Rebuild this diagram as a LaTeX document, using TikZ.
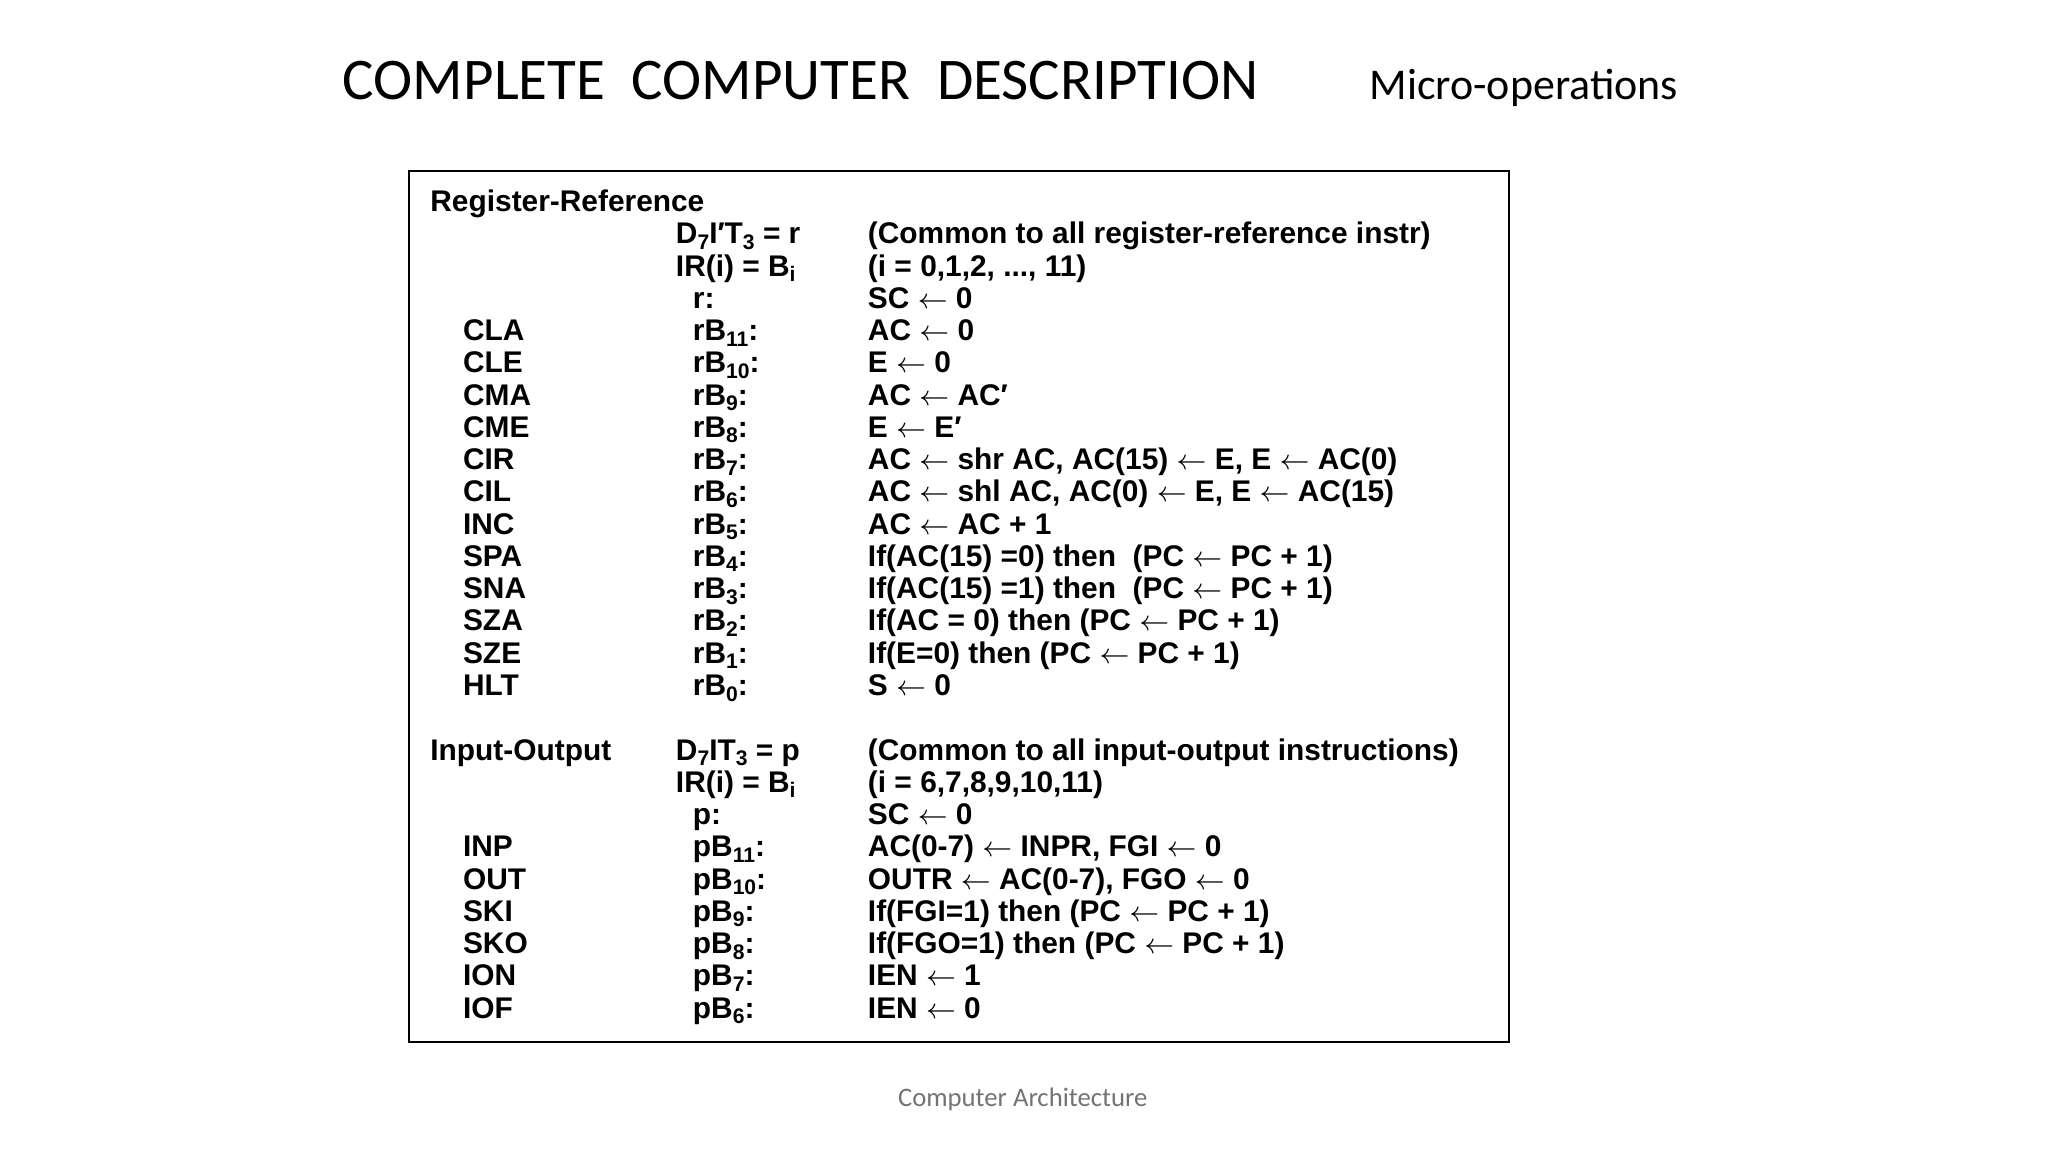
\documentclass[tikz,border=0pt]{standalone}
\usepackage{fontspec}
\setmainfont{Liberation Sans}
\newfontfamily\titlefont{Carlito}
\newcommand{\sbs}[1]{\raisebox{-0.35ex}{\fontsize{6}{6}\selectfont #1}}
\begin{document}
\begin{tikzpicture}[x=0.01306cm,y=-0.01306cm,
  cell/.style={anchor=base west,inner sep=0pt,font=\fontsize{8.5}{10}\selectfont\bfseries}]
\useasboundingbox (0,0) rectangle (1568,882);
\node[anchor=base west,inner sep=0pt,font=\titlefont\fontsize{16.8}{20}\selectfont] (title) at (262,76) {COMPLETE\ \ COMPUTER\ \ DESCRIPTION};
\node[anchor=base west,inner sep=0pt,font=\titlefont\fontsize{12.5}{15}\selectfont] (sub) at (1048,76) {Micro-operations};
\node[anchor=base,inner sep=0pt,text=black!55,font=\titlefont\fontsize{7.6}{10}\selectfont] (foot) at (783,847) {Computer Architecture};
\draw[line width=0.6pt] (313,131) rectangle (1155,798);
\def\ar{$\leftarrow$}
\foreach \y/\a/\b/\c [count=\i] in {
 4/{CLA}/rB\sbs{11}:/AC \ar{} 0,
 5/{CLE}/rB\sbs{10}:/E \ar{} 0,
 6/{CMA}/rB\sbs{9}:/AC \ar{} AC′,
 7/{CME}/rB\sbs{8}:/E \ar{} E′,
 8/{CIR}/rB\sbs{7}:/{AC \ar{} shr AC, AC(15) \ar{} E, E \ar{} AC(0)},
 9/{CIL}/rB\sbs{6}:/{AC \ar{} shl AC, AC(0) \ar{} E, E \ar{} AC(15)},
 10/{INC}/rB\sbs{5}:/AC \ar{} AC + 1,
 11/{SPA}/rB\sbs{4}:/If(AC(15) =0) then\ \ (PC \ar{} PC + 1),
 12/{SNA}/rB\sbs{3}:/If(AC(15) =1) then\ \ (PC \ar{} PC + 1),
 13/{SZA}/rB\sbs{2}:/If(AC = 0) then (PC \ar{} PC + 1),
 14/{SZE}/rB\sbs{1}:/If(E=0) then (PC \ar{} PC + 1),
 15/{HLT}/rB\sbs{0}:/S \ar{} 0,
 20/{INP}/pB\sbs{11}:/{AC(0-7) \ar{} INPR, FGI \ar{} 0},
 21/{OUT}/pB\sbs{10}:/{OUTR \ar{} AC(0-7), FGO \ar{} 0},
 22/{SKI}/pB\sbs{9}:/If(FGI=1) then (PC \ar{} PC + 1),
 23/{SKO}/pB\sbs{8}:/If(FGO=1) then (PC \ar{} PC + 1),
 24/{ION}/pB\sbs{7}:/IEN \ar{} 1,
 25/{IOF}/pB\sbs{6}:/IEN \ar{} 0}{
  \node[cell] (a\i) at (354,162+24.7*\y) {\a};
  \node[cell] (b\i) at (530,162+24.7*\y) {\b};
  \node[cell] (c\i) at (664,162+24.7*\y) {\c};
}
\node[cell] (rr) at (329,162) {Register-Reference};
\node[cell] (io) at (329,162+24.7*17) {Input-Output};
\node[cell] (h1) at (517,162+24.7*1) {D\sbs{7}I′T\sbs{3} = r};
\node[cell] (h1c) at (664,162+24.7*1) {(Common to all register-reference instr)};
\node[cell] (h2) at (517,162+24.7*2) {IR(i) = B\sbs{i}};
\node[cell] (h2c) at (664,162+24.7*2) {(i = 0,1,2, ..., 11)};
\node[cell] (h3) at (530,162+24.7*3) {r:};
\node[cell] (h3c) at (664,162+24.7*3) {SC \ar{} 0};
\node[cell] (h18) at (517,162+24.7*17) {D\sbs{7}IT\sbs{3} = p};
\node[cell] (h18c) at (664,162+24.7*17) {(Common to all input-output instructions)};
\node[cell] (h19) at (517,162+24.7*18) {IR(i) = B\sbs{i}};
\node[cell] (h19c) at (664,162+24.7*18) {(i = 6,7,8,9,10,11)};
\node[cell] (h20) at (530,162+24.7*19) {p:};
\node[cell] (h20c) at (664,162+24.7*19) {SC \ar{} 0};
\end{tikzpicture}
\end{document}
